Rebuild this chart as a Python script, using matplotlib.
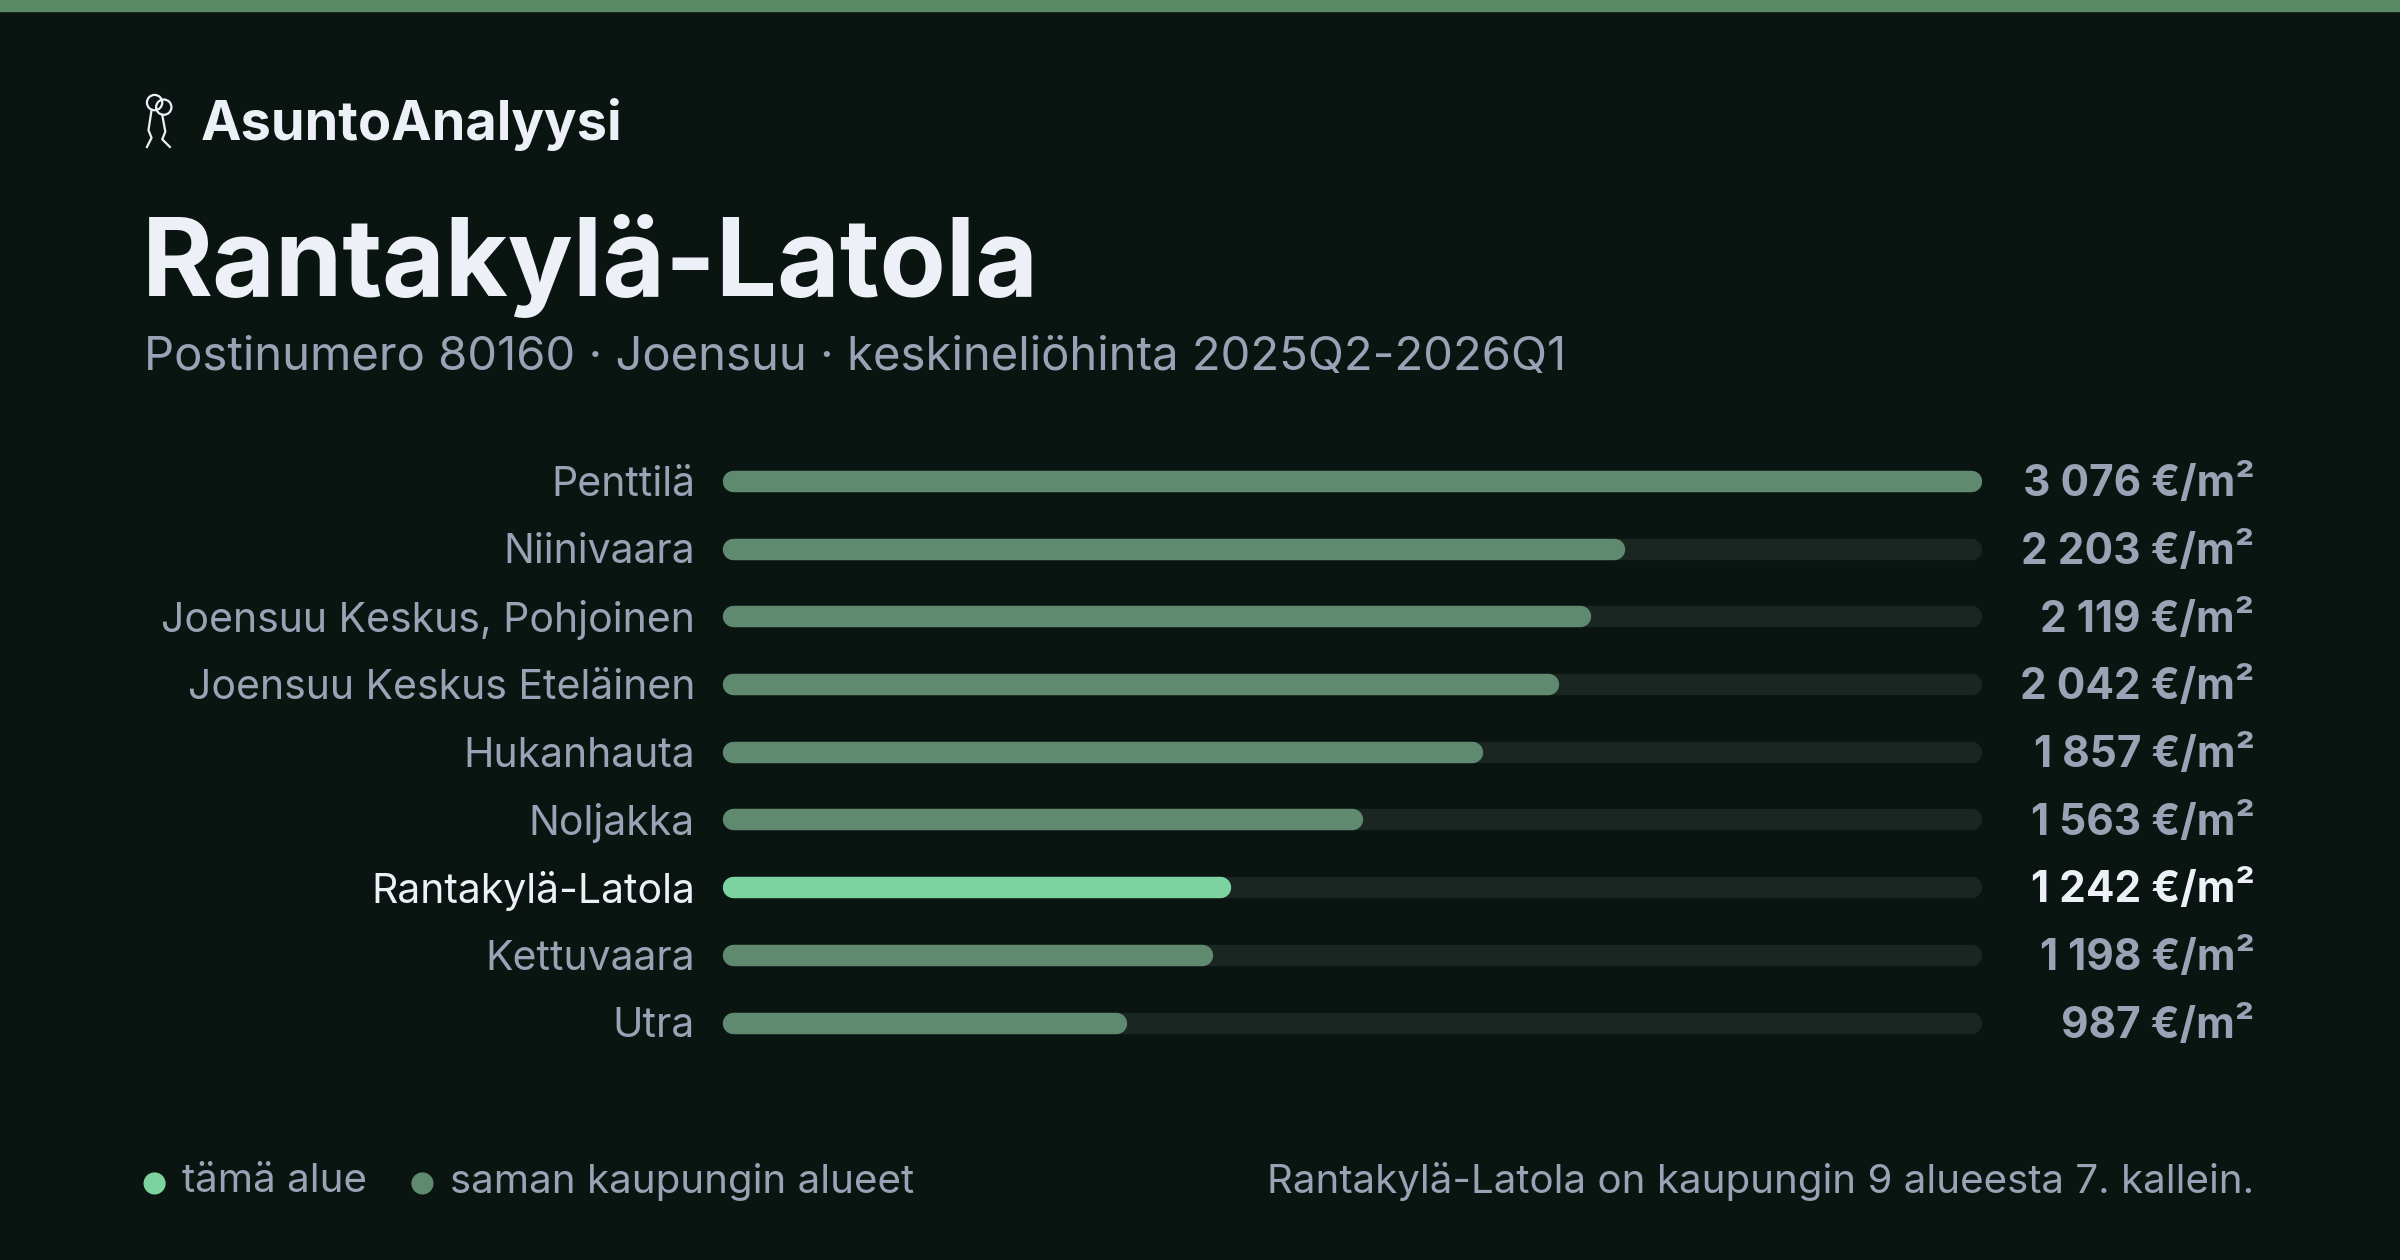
import matplotlib
matplotlib.use("Agg")
import matplotlib.pyplot as plt
from matplotlib.patches import Rectangle, Ellipse
from matplotlib.lines import Line2D

areas = ["Penttilä", "Niinivaara", "Joensuu Keskus, Pohjoinen", "Joensuu Keskus Eteläinen",
         "Hukanhauta", "Noljakka", "Rantakylä-Latola", "Kettuvaara", "Utra"]
prices = [3076, 2203, 2119, 2042, 1857, 1563, 1242, 1198, 987]
value_labels = ["3 076 €/m²", "2 203 €/m²", "2 119 €/m²", "2 042 €/m²", "1 857 €/m²",
                "1 563 €/m²", "1 242 €/m²", "1 198 €/m²", "987 €/m²"]
highlight = "Rantakylä-Latola"

BG = "#0a1512"; TRACK = "#1a2621"; BAR = "#5f8a70"; HI = "#7dd3a0"
WHITE = "#eef0f8"; GREY = "#9aa3b5"

plt.rcParams['font.family'] = ['Inter', 'DejaVu Sans']
fig = plt.figure(figsize=(24, 12.6), dpi=100, facecolor=BG)
W, H = 1568, 823
fx = lambda x: x / W
fy = lambda y: 1 - y / H

def dot(x, y, r, color, fill=True, lw=1.6):
    fig.patches.append(Ellipse((fx(x), fy(y)), 2 * r / W, 2 * r / H, transform=fig.transFigure,
                               facecolor=color if fill else "none", edgecolor=color, lw=lw))

def line(xs, ys, color, lw=1.6):
    fig.add_artist(Line2D([fx(x) for x in xs], [fy(y) for y in ys], transform=fig.transFigure,
                          color=color, lw=lw))

fig.patches.append(Rectangle((0, fy(7)), 1, 7 / H, transform=fig.transFigure, color="#5a8a64", zorder=0))

# logo icon (two keys)
dot(101, 67, 5, WHITE, fill=False)
dot(107, 70, 5, WHITE, fill=False)
line([99, 97, 99, 96], [72, 85, 90, 96], WHITE)
line([106, 108, 106, 111], [75, 86, 91, 96], WHITE)

fig.text(fx(131), fy(81), "AsuntoAnalyysi", color=WHITE, fontsize=39, fontweight="bold", va="center")
fig.text(fx(93), fy(174), "Rantakylä-Latola", color=WHITE, fontsize=78, fontweight="bold", va="center")
fig.text(fx(94), fy(234), "Postinumero 80160 · Joensuu · keskineliöhinta 2025Q2-2026Q1",
         color=GREY, fontsize=34, va="center")

ax = fig.add_axes([fx(472), fy(690), fx(1295) - fx(472), fy(292) - fy(690)])
ax.set_facecolor(BG)
ax.axis("off")
n = len(areas)
vmax = max(prices)
ax.set_xlim(0, vmax)
ax.set_ylim(n - 0.5, -0.5)
lw_pt = 14 * 2400 / W * 72 / 100
r = vmax * 7 / (1295 - 472)
dy = 2.5 / ((690 - 292) / n)
for i, (a, v, lab) in enumerate(zip(areas, prices, value_labels)):
    c = HI if a == highlight else BAR
    ax.plot([r, vmax - r], [i, i], color=TRACK, lw=lw_pt, solid_capstyle="round")
    ax.plot([r, v - r], [i, i], color=c, lw=lw_pt, solid_capstyle="round")
    tc = WHITE if a == highlight else GREY
    ax.text(-vmax * 18 / 823, i + dy, a, color=tc, fontsize=29.5, ha="right", va="center")
    ax.text(vmax * (1473 - 472) / 823, i + dy, lab, color=tc, fontsize=30.5, ha="right", va="center",
            fontweight="bold")

dot(101, 773, 6.5, HI)
dot(276, 773, 6.5, BAR)
fig.text(fx(119), fy(772), "tämä alue", color=GREY, fontsize=29, va="center")
fig.text(fx(294), fy(772), "saman kaupungin alueet", color=GREY, fontsize=29, va="center")
fig.text(fx(1473), fy(772), "Rantakylä-Latola on kaupungin 9 alueesta 7. kallein.",
         color=GREY, fontsize=29, va="center", ha="right")

fig.savefig("out.png", dpi=100, facecolor=BG)
